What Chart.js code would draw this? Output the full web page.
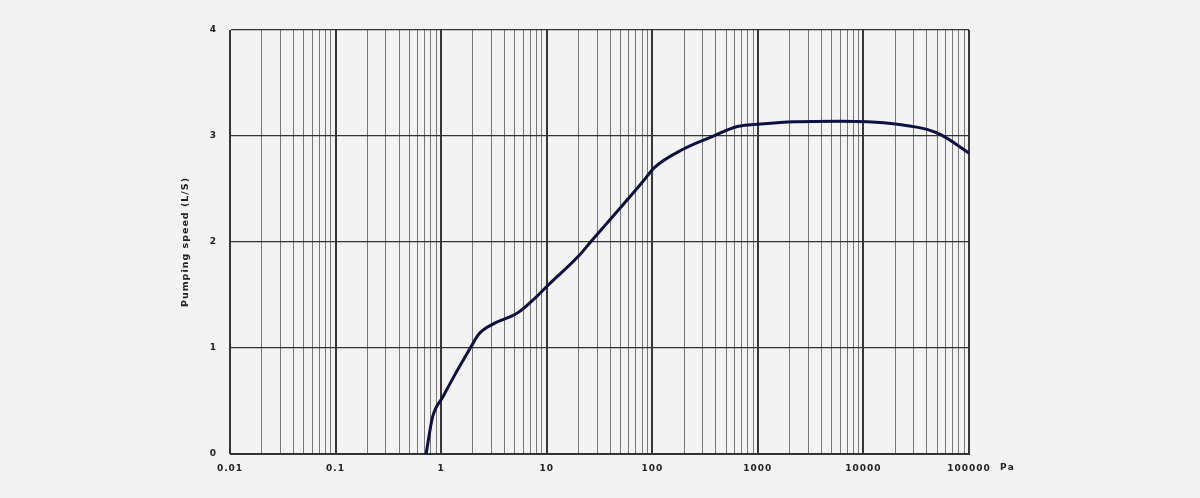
<!DOCTYPE html>
<html>
<head>
<meta charset="utf-8">
<script src="https://cdn.jsdelivr.net/npm/chart.js@4"></script>
<style>
html,body{margin:0;padding:0;background:#f3f3f3;}
#wrap{width:1200px;height:498px;position:relative;}
</style>
</head>
<body>
<div id="wrap"><canvas id="c" width="1200" height="498"></canvas></div>
<script>
// Data
const pressure = [0.72, 0.83, 1.04, 1.32, 1.63, 1.89, 2.27, 3.15, 4.87, 5.64, 7.55, 10, 21, 26, 46.7, 83, 104, 200, 358, 641, 993, 2208, 6120, 10970, 21100, 40700, 54500, 100000];
const speed    = [0.0, 0.35, 0.54, 0.73, 0.89, 1.00, 1.13, 1.23, 1.31, 1.35, 1.46, 1.58, 1.89, 2.00, 2.29, 2.58, 2.70, 2.88, 2.99, 3.09, 3.11, 3.135, 3.14, 3.135, 3.11, 3.06, 3.01, 2.84];
const xMajorLabels = ['0.01','0.1','1','10','100','1000','10000','100000'];
const yTicks = [0,1,2,3,4];
const xUnit = 'Pa';
const yTitle = 'Pumping speed (L/S)';

const xTickValues = [];
for (let e = -2; e <= 4; e++) {
  for (let m = 1; m <= 9; m++) xTickValues.push(Number((m * Math.pow(10, e)).toPrecision(12)));
}
xTickValues.push(100000);
const isMajor = v => Math.abs(Math.log10(v) - Math.round(Math.log10(v))) < 1e-9;

const FONT = '"DejaVu Sans", Verdana, sans-serif';

const spacingPlugin = {
  id: 'spacing',
  beforeDraw(chart) { chart.ctx.letterSpacing = '1px'; },
  afterDraw(chart) {
    const ctx = chart.ctx;
    const xs = chart.scales.x;
    const px = xs.getPixelForValue(100000);
    ctx.save();
    ctx.letterSpacing = '1.5px';
    ctx.font = 'bold 9px ' + FONT;
    ctx.fillStyle = '#222';
    ctx.textAlign = 'left';
    ctx.textBaseline = 'middle';
    ctx.fillText(xUnit, px + 31, 468);
    ctx.restore();
  }
};

new Chart(document.getElementById('c'), {
  type: 'line',
  data: {
    datasets: [{
      data: pressure.map((p, i) => ({x: p, y: speed[i]})),
      borderColor: '#0f0f3f',
      borderWidth: 3,
      pointRadius: 0,
      tension: 0.3,
      cubicInterpolationMode: 'monotone',
      fill: false
    }]
  },
  options: {
    responsive: false,
    animation: false,
    layout: {padding: {left: 0, right: 231, top: 30, bottom: 0}},
    plugins: {legend: {display: false}, tooltip: {enabled: false}},
    scales: {
      x: {
        type: 'logarithmic',
        min: 0.01, max: 100000,
        afterBuildTicks(scale) { scale.ticks = xTickValues.map(v => ({value: v})); },
        afterFit(scale) { scale.height = 44; },
        border: {display: true, color: '#333', width: 1},
        grid: {
          drawTicks: false,
          color: ctx => (ctx.tick && isMajor(ctx.tick.value)) ? '#363636' : '#777777',
          lineWidth: ctx => (ctx.tick && isMajor(ctx.tick.value)) ? 2 : 1
        },
        ticks: {
          autoSkip: false, maxRotation: 0, padding: 9,
          color: '#222',
          font: {family: FONT, size: 9, weight: 'bold'},
          callback(v) {
            if (!isMajor(v)) return '';
            const i = Math.round(Math.log10(v)) + 2;
            return xMajorLabels[i];
          }
        }
      },
      y: {
        type: 'linear',
        min: 0, max: 4,
        afterBuildTicks(scale) { scale.ticks = yTicks.map(v => ({value: v})); },
        afterFit(scale) { scale.width = 230; },
        border: {display: true, color: '#333', width: 1},
        grid: {drawTicks: false, color: '#333333', lineWidth: 1.3},
        ticks: {
          padding: 13, color: '#222',
          font: {family: FONT, size: 9, weight: 'bold'},
          callback: v => String(v)
        },
        title: {
          display: true, text: yTitle, color: '#222',
          font: {family: FONT, size: 9.5, weight: 'bold'},
          padding: {top: 180, bottom: 0}
        }
      }
    }
  },
  plugins: [spacingPlugin]
});
</script>
</body>
</html>
